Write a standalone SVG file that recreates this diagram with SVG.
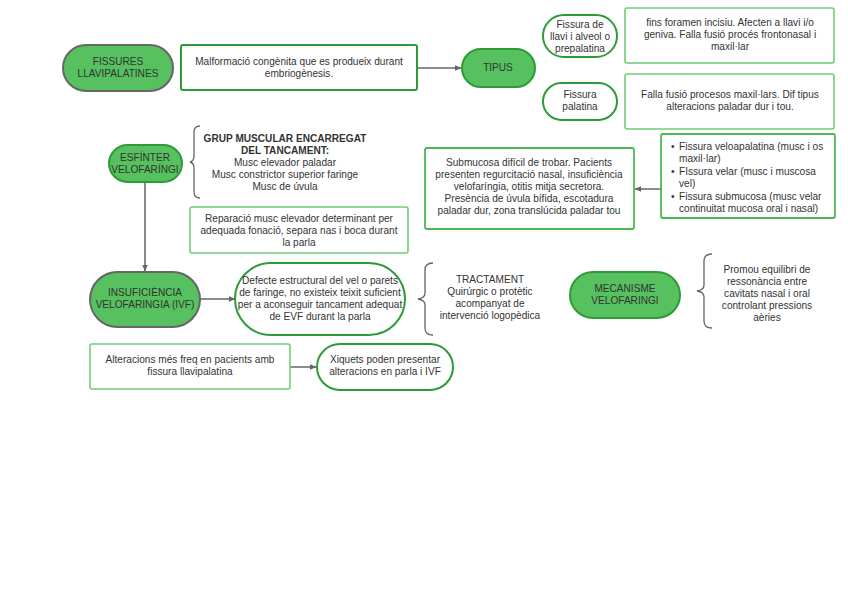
<svg xmlns="http://www.w3.org/2000/svg" width="848" height="599" viewBox="0 0 848 599">
<style>
text{font-family:"Liberation Sans",Arial,sans-serif;font-size:10.1px;fill:#333;text-anchor:middle}
.b{font-weight:bold}
.s{text-anchor:start}
.gf{fill:#56c15e;stroke:#2e9a38;stroke-width:2}
.gg{fill:#56c15e;stroke:#666;stroke-width:2}
.wd{fill:#fff;stroke:#2e9a38;stroke-width:2}
.wm{fill:#fff;stroke:#4cb855;stroke-width:1.8}
.wl{fill:#fff;stroke:#72cc78;stroke-width:1.6}
.ln{fill:none;stroke:#666;stroke-width:1.5}
.br{fill:none;stroke:#666;stroke-width:1.3}
</style>
<defs>
<marker id="ah" viewBox="0 0 10 10" refX="9" refY="5" markerWidth="7" markerHeight="7" orient="auto" markerUnits="userSpaceOnUse">
<path d="M0,1 L10,5 L0,9 z" fill="#666"/>
</marker>
</defs>
<rect width="848" height="599" fill="#fff"/>
<g id="connectors">
<line class="ln" x1="417" y1="68" x2="461" y2="68" marker-end="url(#ah)"/>
<line class="ln" x1="661" y1="189" x2="635" y2="189" marker-end="url(#ah)"/>
<line class="ln" x1="145" y1="182" x2="145" y2="271" marker-end="url(#ah)"/>
<line class="ln" x1="200" y1="299" x2="235" y2="299" marker-end="url(#ah)"/>
<line class="ln" x1="290" y1="367" x2="316" y2="367" marker-end="url(#ah)"/>
</g>
<g id="fissures">
<rect class="gg" x="63" y="45" width="110" height="46" rx="23"/>
<text x="118" y="65">FISSURES</text>
<text x="118" y="77">LLAVIPALATINES</text>
</g>
<g id="malformacio">
<rect class="wd" x="181" y="45" width="236" height="45" rx="2"/>
<text x="299" y="65">Malformació congènita que es produeix durant</text>
<text x="299" y="77">embriogènesis.</text>
</g>
<g id="tipus">
<rect class="gf" x="462" y="49" width="73" height="38" rx="19"/>
<text x="498" y="71">TIPUS</text>
</g>
<g id="fissura-llavi">
<rect class="wd" x="543" y="15" width="74" height="42" rx="21"/>
<text x="580" y="28">Fissura de</text>
<text x="580" y="40">llavi i alveol o</text>
<text x="580" y="52">prepalatina</text>
</g>
<g id="fins-foramen">
<rect class="wl" x="625" y="8" width="209" height="55" rx="2"/>
<text x="730" y="26">fins foramen incisiu. Afecten a llavi i/o</text>
<text x="730" y="38">geniva. Falla fusió procés frontonasal i</text>
<text x="730" y="50">maxil·lar</text>
</g>
<g id="fissura-palatina">
<rect class="wd" x="543" y="83" width="74" height="37" rx="18.5"/>
<text x="580" y="98">Fissura</text>
<text x="580" y="110">palatina</text>
</g>
<g id="falla-fusio">
<rect class="wl" x="625" y="74" width="209" height="55" rx="2"/>
<text x="730" y="98">Falla fusió procesos maxil·lars. Dif tipus</text>
<text x="730" y="110">alteracions paladar dur i tou.</text>
</g>
<g id="tipus-fissures">
<rect class="wm" x="661" y="134" width="174" height="84" rx="2"/>
<text class="s" x="671" y="150">•</text><text class="s" x="679" y="150">Fissura veloapalatina (musc i os</text>
<text class="s" x="679" y="162">maxil·lar)</text>
<text class="s" x="671" y="175">•</text><text class="s" x="679" y="175">FIssura velar (musc i muscosa</text>
<text class="s" x="679" y="187">vel)</text>
<text class="s" x="671" y="200">•</text><text class="s" x="679" y="200">Fissura submucosa (musc velar</text>
<text class="s" x="679" y="212">continuitat mucosa oral i nasal)</text>
</g>
<g id="submucosa">
<rect class="wm" x="425" y="148" width="209" height="81" rx="2"/>
<text x="529" y="166">Submucosa difícil de trobar. Pacients</text>
<text x="529" y="178">presenten regurcitació nasal, insuficiència</text>
<text x="529" y="190">velofaríngia, otitis mitja secretora.</text>
<text x="529" y="202">Presència de úvula bífida, escotadura</text>
<text x="529" y="214">paladar dur, zona translúcida paladar tou</text>
</g>
<g id="esfinter">
<rect class="gf" x="109" y="145" width="73" height="37" rx="18.5"/>
<text x="145" y="161">ESFÍNTER</text>
<text x="145" y="173">VELOFARÍNGI</text>
</g>
<g id="grup-muscular">
<path class="br" d="M200,126 Q194,126 194,132 L194,156 Q194,161 190,162 Q194,163 194,168 L194,192 Q194,198 200,198"/>
<text class="b" x="285" y="142">GRUP MUSCULAR ENCARREGAT</text>
<text class="b" x="285" y="154">DEL TANCAMENT:</text>
<text x="285" y="166">Musc elevador paladar</text>
<text x="285" y="178">Musc constrictor superior faringe</text>
<text x="285" y="190">Musc de úvula</text>
</g>
<g id="reparacio">
<rect class="wl" x="190" y="207" width="218" height="46" rx="2"/>
<text x="299" y="222">Reparació musc elevador determinant per</text>
<text x="299" y="234">adequada fonació, separa nas i boca durant</text>
<text x="299" y="246">la parla</text>
</g>
<g id="insuficiencia">
<rect class="gg" x="90" y="272" width="110" height="55" rx="27.5"/>
<text x="145" y="296">INSUFICIÈNCIA</text>
<text x="145" y="308">VELOFARINGIA (IVF)</text>
</g>
<g id="defecte">
<rect class="wd" x="235" y="263" width="170" height="72" rx="36"/>
<text x="320" y="284">Defecte estructural del vel o parets</text>
<text x="320" y="296">de faringe, no existeix teixit suficient</text>
<text x="320" y="308">per a aconseguir tancament adequat</text>
<text x="320" y="320">de EVF durant la parla</text>
</g>
<g id="tractament">
<path class="br" d="M433,263 Q425,263 425,270 L425,293 Q425,298 418,299 Q425,300 425,305 L425,328 Q425,335 433,335"/>
<text x="490" y="283">TRACTAMENT</text>
<text x="490" y="295">Quirúrgic o protètic</text>
<text x="490" y="307">acompanyat de</text>
<text x="490" y="319">intervenció logopèdica</text>
</g>
<g id="alteracions">
<rect class="wl" x="90" y="344" width="200" height="45" rx="2"/>
<text x="190" y="363">Alteracions més freq en pacients amb</text>
<text x="190" y="375">fissura llavipalatina</text>
</g>
<g id="xiquets">
<rect class="wd" x="317" y="344" width="136" height="46" rx="23"/>
<text x="385" y="363">Xiquets poden presentar</text>
<text x="385" y="375">alteracions en parla i IVF</text>
</g>
<g id="mecanisme">
<rect class="gf" x="570" y="272" width="110" height="46" rx="23"/>
<text x="625" y="292">MECANISME</text>
<text x="625" y="304">VELOFARINGI</text>
</g>
<g id="promou">
<path class="br" d="M712,254 Q704,254 704,261 L704,285 Q704,290 697,291 Q704,292 704,297 L704,321 Q704,328 712,328"/>
<text x="767" y="273">Promou equilibri de</text>
<text x="767" y="285">ressonància entre</text>
<text x="767" y="297">cavitats nasal i oral</text>
<text x="767" y="309">controlant pressions</text>
<text x="767" y="321">aèries</text>
</g>
</svg>
